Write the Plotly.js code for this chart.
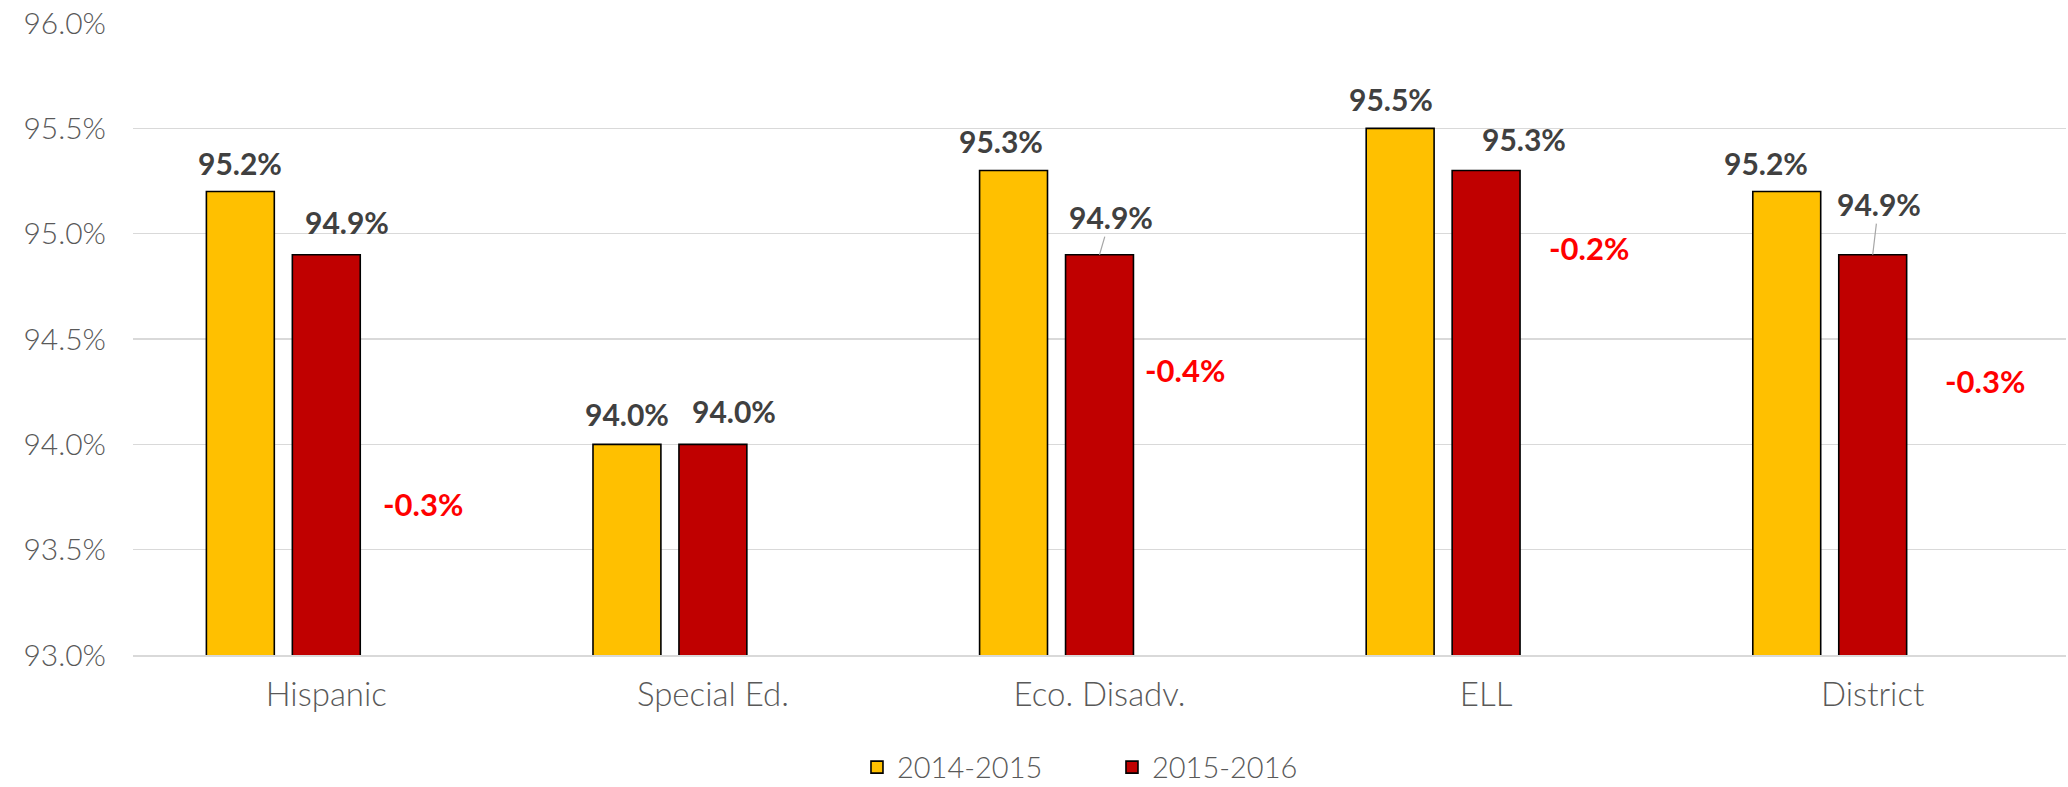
<!DOCTYPE html>
<html><head><meta charset="utf-8">
<script src="https://cdn.plot.ly/plotly-3.0.1.min.js"></script>
<style>html,body{margin:0;padding:0;background:#fff}#chart{width:2068px;height:787px}</style>
</head><body><div id="chart"></div><script>
// ---- data ----
const categories = ['Hispanic', 'Special Ed.', 'Eco. Disadv.', 'ELL', 'District'];
const seriesNames = ['2014-2015', '2015-2016'];
const rate2015 = [95.2, 94.0, 95.3, 95.5, 95.2];
const rate2016 = [94.9, 94.0, 94.9, 95.3, 94.9];
const change = [-0.3, 0.0, -0.4, -0.2, -0.3];
const yTicks = [93.0, 93.5, 94.0, 94.5, 95.0, 95.5, 96.0];

// ---- label placement (pixel offsets, layout only) ----
const lab1 = {dx: [-86, -86, -99, -95, -107], dy: [29, 30, 29, 29.5, 29]};
const lab2 = {dx: [21, 21, 11, 38, 6], dy: [32.6, 33.5, 37.6, 31.7, 50.6], leader: [false, false, true, false, true]};
const chgPos = {dx: [96.5, 0, 85, 103, 112], y: [93.718, null, 94.351, 94.932, 94.302]};

const FONT = 'Lato, "Open Sans", sans-serif';
const fmt = v => v.toFixed(1) + '%';

const traces = [
  {type: 'bar', name: seriesNames[0], x: categories, y: rate2015,
   marker: {color: '#FFC000', line: {color: '#000000', width: 1.6}}, hoverinfo: 'skip'},
  {type: 'bar', name: seriesNames[1], x: categories, y: rate2016,
   marker: {color: '#C00000', line: {color: '#000000', width: 1.6}}, hoverinfo: 'skip'},
  {type: 'bar', name: 'Change', x: categories, y: change, showlegend: false,
   marker: {color: 'rgba(0,0,0,0)', line: {width: 0}}, hoverinfo: 'skip'}
];

const annotations = [];
const labFont = {family: FONT, size: 30, color: '#404040', weight: 'bold'};
categories.forEach((c, i) => {
  annotations.push({xref: 'x', yref: 'y', x: c, y: rate2015[i], text: fmt(rate2015[i]),
    showarrow: false, xanchor: 'center', yanchor: 'middle',
    xshift: lab1.dx[i], yshift: lab1.dy[i], font: labFont});
  if (lab2.leader[i]) {
    annotations.push({xref: 'x', yref: 'y', x: c, y: rate2016[i], text: fmt(rate2016[i]),
      showarrow: true, arrowhead: 0, arrowwidth: 1.2, arrowcolor: '#A6A6A6',
      ax: lab2.dx[i], ay: -lab2.dy[i], xanchor: 'center', yanchor: 'middle', font: labFont});
  } else {
    annotations.push({xref: 'x', yref: 'y', x: c, y: rate2016[i], text: fmt(rate2016[i]),
      showarrow: false, xanchor: 'center', yanchor: 'middle',
      xshift: lab2.dx[i], yshift: lab2.dy[i], font: labFont});
  }
  if (change[i] !== 0 && chgPos.y[i] !== null) {
    annotations.push({xref: 'x', yref: 'y', x: c, y: chgPos.y[i], text: fmt(change[i]),
      showarrow: false, xanchor: 'center', yanchor: 'middle', xshift: chgPos.dx[i],
      font: {family: FONT, size: 31, color: '#FF0000', weight: 'bold'}});
  }
});

const layout = {
  width: 2068, height: 787,
  margin: {l: 133, r: 2, t: 23, b: 132, pad: 0, autoexpand: false},
  paper_bgcolor: '#ffffff', plot_bgcolor: '#ffffff',
  barmode: 'group', bargap: 0.333, bargroupgap: 0.21,
  showlegend: true,
  legend: {orientation: 'h', xref: 'container', yref: 'container', x: 0.4144, xanchor: 'left',
    y: 0.025, yanchor: 'middle', entrywidth: 210, entrywidthmode: 'pixels',
    font: {family: FONT, size: 29, color: '#595959', weight: 300}, traceorder: 'normal'},
  xaxis: {type: 'category', automargin: false, showgrid: false, showline: true, linecolor: '#D9D9D9', linewidth: 1.5,
    ticks: '', tickfont: {family: FONT, size: 33, color: '#595959', weight: 300},
    ticklabelstandoff: 10, zeroline: false},
  yaxis: {range: [93, 96], automargin: false, tickvals: yTicks, ticktext: yTicks.map(fmt),
    showgrid: true, gridcolor: '#D9D9D9', gridwidth: 1.4, zeroline: false, showline: false,
    ticks: '', tickfont: {family: FONT, size: 30, color: '#595959', weight: 300},
    ticklabelstandoff: 26},
  annotations: annotations
};

Plotly.newPlot('chart', traces, layout, {displayModeBar: false, staticPlot: true});
</script></body></html>
